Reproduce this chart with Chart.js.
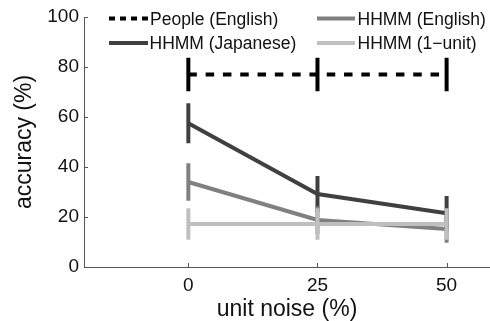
<!DOCTYPE html>
<html lang="en">
<head>
    <meta charset="UTF-8">
    <title>Accuracy vs unit noise</title>
    <style>
        body {
            margin: 0;
            padding: 0;
            background-color: #ffffff;
        }
        canvas {
            display: block;
        }
    </style>
</head>
<body>
    <canvas id="noiseChart" width="490" height="321"></canvas>

    <script src="https://cdn.jsdelivr.net/npm/chart.js"></script>
    <script>
        // values
        const noiseLevels = [0, 25, 50];
        const yTicks = [0, 20, 40, 60, 80, 100];

        const peopleEnglish = [77, 77, 77];
        const peopleErr = [6.7, 6.7, 6.7];
        const hhmmJapanese = [57.5, 29.2, 21.5];
        const japaneseErr = [8, 7.2, 6.9];
        const hhmmEnglish = [34, 18.8, 15.2];
        const englishErr = [7.5, 5.5, 5.5];
        const hhmmOneUnit = [17.2, 17.2, 17.2];
        const oneUnitErr = [6.3, 6.3, 6.3];

        const FONT = "'Liberation Sans', Arial, Helvetica, sans-serif";
        const AXIS_COLOR = '#555555';

        function points(values) {
            return noiseLevels.map((x, i) => ({ x: x, y: values[i] }));
        }

        function series(label, values, errors, color, order, dash) {
            return {
                label: label,
                data: points(values),
                errors: errors,
                borderColor: color,
                backgroundColor: color,
                borderWidth: 4,
                borderDash: dash || [],
                pointRadius: 0,
                tension: 0,
                order: order
            };
        }

        // vertical error bars, drawn with each dataset
        const errorBars = {
            id: 'errorBars',
            afterDatasetDraw(chart, args) {
                const ds = chart.data.datasets[args.index];
                const ctx = chart.ctx;
                const xs = chart.scales.x;
                const ys = chart.scales.y;
                ctx.save();
                ctx.strokeStyle = ds.borderColor;
                ctx.lineWidth = 4;
                ctx.lineCap = 'butt';
                ctx.setLineDash([]);
                ds.errors.forEach((e, i) => {
                    const px = xs.getPixelForValue(noiseLevels[i]);
                    const v = ds.data[i].y;
                    ctx.beginPath();
                    ctx.moveTo(px, ys.getPixelForValue(v + e));
                    ctx.lineTo(px, ys.getPixelForValue(v - e));
                    ctx.stroke();
                });
                ctx.restore();
            }
        };

        // small inward tick marks, matlab style
        const innerTicks = {
            id: 'innerTicks',
            afterDraw(chart) {
                const ctx = chart.ctx;
                const xs = chart.scales.x;
                const ys = chart.scales.y;
                const area = chart.chartArea;
                ctx.save();
                ctx.strokeStyle = AXIS_COLOR;
                ctx.lineWidth = 1;
                ctx.beginPath();
                yTicks.forEach(v => {
                    const py = Math.round(ys.getPixelForValue(v)) + 0.5;
                    ctx.moveTo(area.left, py);
                    ctx.lineTo(area.left + 4, py);
                });
                noiseLevels.forEach(v => {
                    const px = Math.round(xs.getPixelForValue(v)) + 0.5;
                    ctx.moveTo(px, area.bottom);
                    ctx.lineTo(px, area.bottom - 4);
                });
                ctx.stroke();
                ctx.restore();
            }
        };

        // two column legend inside the plot
        const gridLegend = {
            id: 'gridLegend',
            afterDraw(chart) {
                const ctx = chart.ctx;
                const ds = chart.data.datasets;
                const slots = [
                    { i: 0, x0: 109, x1: 148, tx: 150, ly: 18.5, ty: 20.5, dash: [6, 5] },
                    { i: 2, x0: 317, x1: 355, tx: 357.5, ly: 18.5, ty: 20.5 },
                    { i: 1, x0: 109, x1: 148, tx: 149.5, ly: 43, ty: 44.5 },
                    { i: 3, x0: 317, x1: 355, tx: 357.5, ly: 43, ty: 44.5 }
                ];
                ctx.save();
                slots.forEach(s => {
                    const d = ds[s.i];
                    ctx.strokeStyle = d.borderColor;
                    ctx.lineWidth = 4;
                    ctx.lineCap = 'butt';
                    ctx.setLineDash(s.dash || []);
                    ctx.beginPath();
                    ctx.moveTo(s.x0, s.ly);
                    ctx.lineTo(s.x1, s.ly);
                    ctx.stroke();
                    ctx.setLineDash([]);
                    ctx.fillStyle = '#111111';
                    ctx.font = '17.5px ' + FONT;
                    ctx.textBaseline = 'middle';
                    ctx.textAlign = 'left';
                    ctx.fillText(d.label, s.tx, s.ty);
                });
                ctx.restore();
            }
        };

        const ctx = document.getElementById('noiseChart').getContext('2d');

        new Chart(ctx, {
            type: 'line',
            data: {
                datasets: [
                    series('People (English)', peopleEnglish, peopleErr, '#000000', 3, [8.5, 8.8]),
                    series('HHMM (Japanese)', hhmmJapanese, japaneseErr, '#404040', 2),
                    series('HHMM (English)', hhmmEnglish, englishErr, '#808080', 1),
                    series('HHMM (1\u2212unit)', hhmmOneUnit, oneUnitErr, '#bfbfbf', 0)
                ]
            },
            plugins: [errorBars, innerTicks, gridLegend],
            options: {
                responsive: false,
                animation: false,
                devicePixelRatio: 1,
                layout: {
                    padding: { top: 17, right: 0, bottom: 0, left: 0 }
                },
                plugins: {
                    legend: { display: false },
                    tooltip: { enabled: false }
                },
                scales: {
                    x: {
                        type: 'linear',
                        min: -20.2,
                        max: 58.4,
                        afterBuildTicks: function (scale) {
                            scale.ticks = noiseLevels.map(v => ({ value: v }));
                        },
                        afterFit: function (scale) {
                            scale.height = 54;
                        },
                        grid: { drawOnChartArea: false, drawTicks: false },
                        border: { color: AXIS_COLOR, width: 1 },
                        ticks: {
                            padding: 7,
                            maxRotation: 0,
                            autoSkip: false,
                            color: '#111111',
                            font: { family: FONT, size: 19 }
                        },
                        title: {
                            display: true,
                            text: 'unit noise (%)',
                            color: '#111111',
                            padding: 0,
                            font: { family: FONT, size: 23, lineHeight: 1 }
                        }
                    },
                    y: {
                        min: 0,
                        max: 100,
                        afterBuildTicks: function (scale) {
                            scale.ticks = yTicks.map(v => ({ value: v }));
                        },
                        afterFit: function (scale) {
                            scale.width = 84;
                        },
                        grid: { drawOnChartArea: false, drawTicks: false },
                        border: { color: AXIS_COLOR, width: 1 },
                        ticks: {
                            padding: 5,
                            color: '#111111',
                            font: { family: FONT, size: 19 }
                        },
                        title: {
                            display: true,
                            text: 'accuracy (%)',
                            color: '#111111',
                            padding: { top: 13.5, bottom: 0 },
                            font: { family: FONT, size: 23, lineHeight: 1 }
                        }
                    }
                }
            }
        });
    </script>
</body>
</html>
